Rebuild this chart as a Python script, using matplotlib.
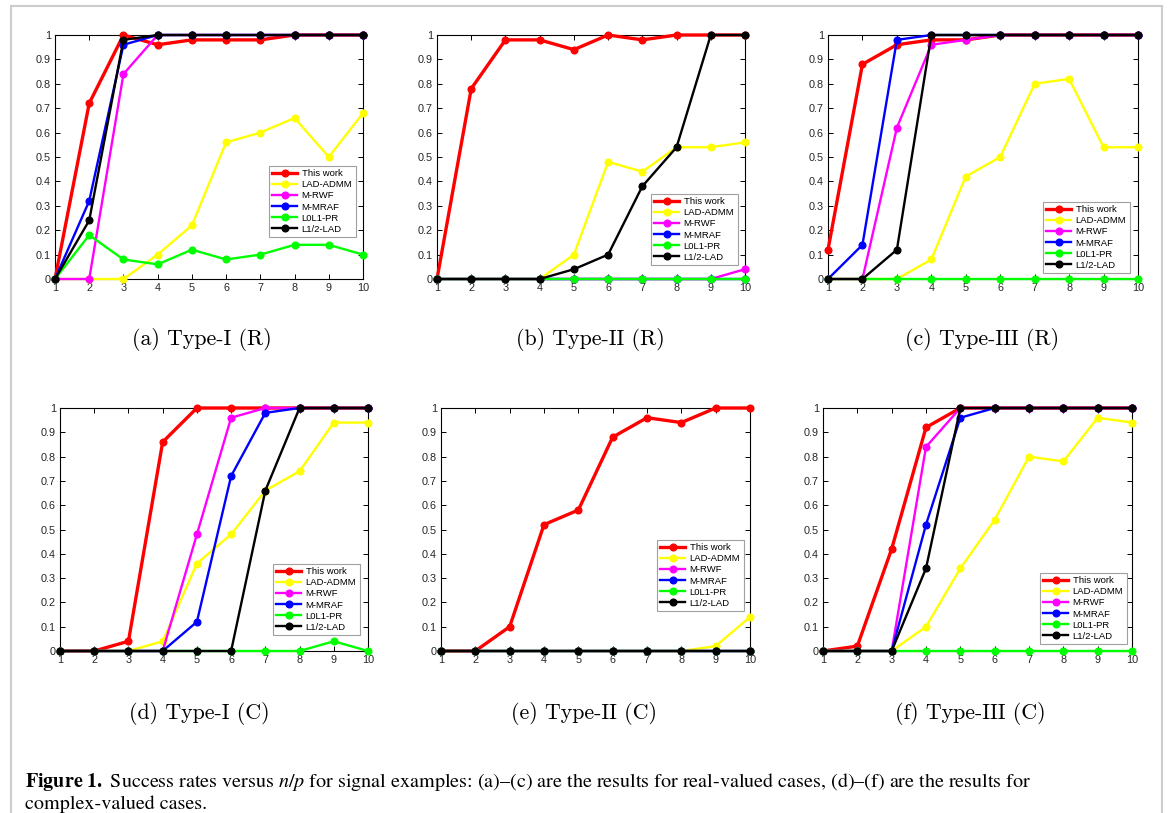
import matplotlib
matplotlib.use("Agg")
import matplotlib.pyplot as plt
from matplotlib.patches import Rectangle

plt.rcParams['font.family'] = ['Liberation Sans', 'DejaVu Sans']
plt.rcParams['mathtext.fontset'] = 'stix'

x = [1, 2, 3, 4, 5, 6, 7, 8, 9, 10]
methods = ['This work', 'LAD-ADMM', 'M-RWF', 'M-MRAF', 'L0L1-PR', 'L1/2-LAD']
colors = ['#ff0000', '#ffff00', '#ff00ff', '#0000ff', '#00ff00', '#000000']

# panel (a) Type-I (R)
a_this = [0, 0.72, 1.0, 0.96, 0.98, 0.98, 0.98, 1, 1, 1]
a_lad = [0, 0, 0, 0.10, 0.22, 0.56, 0.60, 0.66, 0.50, 0.68]
a_rwf = [0, 0, 0.84, 1, 1, 1, 1, 1, 1, 1]
a_mraf = [0, 0.32, 0.96, 1, 1, 1, 1, 1, 1, 1]
a_l0l1 = [0, 0.18, 0.08, 0.06, 0.12, 0.08, 0.10, 0.14, 0.14, 0.10]
a_l12 = [0, 0.24, 0.98, 1, 1, 1, 1, 1, 1, 1]

# panel (b) Type-II (R)
b_this = [0, 0.78, 0.98, 0.98, 0.94, 1, 0.98, 1, 1, 1]
b_lad = [0, 0, 0, 0, 0.10, 0.48, 0.44, 0.54, 0.54, 0.56]
b_rwf = [0, 0, 0, 0, 0, 0, 0, 0, 0, 0.04]
b_mraf = [0, 0, 0, 0, 0, 0, 0, 0, 0, 0]
b_l0l1 = [0, 0, 0, 0, 0, 0, 0, 0, 0, 0]
b_l12 = [0, 0, 0, 0, 0.04, 0.10, 0.38, 0.54, 1, 1]

# panel (c) Type-III (R)
c_this = [0.12, 0.88, 0.96, 0.98, 0.98, 1, 1, 1, 1, 1]
c_lad = [0, 0, 0, 0.08, 0.42, 0.50, 0.80, 0.82, 0.54, 0.54]
c_rwf = [0, 0, 0.62, 0.96, 0.98, 1, 1, 1, 1, 1]
c_mraf = [0, 0.14, 0.98, 1, 1, 1, 1, 1, 1, 1]
c_l0l1 = [0, 0, 0, 0, 0, 0, 0, 0, 0, 0]
c_l12 = [0, 0, 0.12, 1, 1, 1, 1, 1, 1, 1]

# panel (d) Type-I (C)
d_this = [0, 0, 0.04, 0.86, 1, 1, 1, 1, 1, 1]
d_lad = [0, 0, 0, 0.04, 0.36, 0.48, 0.66, 0.74, 0.94, 0.94]
d_rwf = [0, 0, 0, 0, 0.48, 0.96, 1, 1, 1, 1]
d_mraf = [0, 0, 0, 0, 0.12, 0.72, 0.98, 1, 1, 1]
d_l0l1 = [0, 0, 0, 0, 0, 0, 0, 0, 0.04, 0]
d_l12 = [0, 0, 0, 0, 0, 0, 0.66, 1, 1, 1]

# panel (e) Type-II (C)
e_this = [0, 0, 0.10, 0.52, 0.58, 0.88, 0.96, 0.94, 1, 1]
e_lad = [0, 0, 0, 0, 0, 0, 0, 0, 0.02, 0.14]
e_rwf = [0, 0, 0, 0, 0, 0, 0, 0, 0, 0]
e_mraf = [0, 0, 0, 0, 0, 0, 0, 0, 0, 0]
e_l0l1 = [0, 0, 0, 0, 0, 0, 0, 0, 0, 0]
e_l12 = [0, 0, 0, 0, 0, 0, 0, 0, 0, 0]

# panel (f) Type-III (C)
f_this = [0, 0.02, 0.42, 0.92, 1, 1, 1, 1, 1, 1]
f_lad = [0, 0, 0, 0.10, 0.34, 0.54, 0.80, 0.78, 0.96, 0.94]
f_rwf = [0, 0, 0, 0.84, 1, 1, 1, 1, 1, 1]
f_mraf = [0, 0, 0, 0.52, 0.96, 1, 1, 1, 1, 1]
f_l0l1 = [0, 0, 0, 0, 0, 0, 0, 0, 0, 0]
f_l12 = [0, 0, 0, 0.34, 1, 1, 1, 1, 1, 1]

subcaptions = ['(a) Type-I (R)', '(b) Type-II (R)', '(c) Type-III (R)',
               '(d) Type-I (C)', '(e) Type-II (C)', '(f) Type-III (C)']
panels = [
    [a_this, a_lad, a_rwf, a_mraf, a_l0l1, a_l12],
    [b_this, b_lad, b_rwf, b_mraf, b_l0l1, b_l12],
    [c_this, c_lad, c_rwf, c_mraf, c_l0l1, c_l12],
    [d_this, d_lad, d_rwf, d_mraf, d_l0l1, d_l12],
    [e_this, e_lad, e_rwf, e_mraf, e_l0l1, e_l12],
    [f_this, f_lad, f_rwf, f_mraf, f_l0l1, f_l12],
]

W, H = 1170, 813
fig = plt.figure(figsize=(W / 100, H / 100), dpi=100)

# axes boxes in pixels: left, top, right, bottom
boxes = [(55, 35, 363, 279), (437, 35, 745, 279), (828, 35, 1138, 279),
         (60, 408, 368, 651), (441, 408, 750, 651), (823, 408, 1132, 651)]
# legend upper-left corners in pixels
leg_pos = [(269, 166), (651, 194), (1043, 202), (273, 564), (657, 540), (1040, 573)]
cap_xy = [(202, 339), (590, 339), (982, 339), (199, 713), (584, 713), (970, 713)]

for i in range(6):
    l, t, r, b = boxes[i]
    ax = fig.add_axes([l / W, 1 - b / H, (r - l) / W, (b - t) / H])
    for j, ys in enumerate(panels[i]):
        lw = 2.4 if j == 0 else 1.7
        ax.plot(x, ys, color=colors[j], lw=lw, marker='o', ms=4.8,
                label=methods[j], clip_on=False)
    ax.set_xlim(1, 10)
    ax.set_ylim(0, 1)
    ax.set_xticks(x)
    ax.set_yticks([k / 10 for k in range(11)])
    ax.set_yticklabels(['0'] + ['0.%d' % k for k in range(1, 10)] + ['1'])
    ax.tick_params(direction='in', top=True, right=True, length=3.5, width=0.7,
                   labelsize=7.8, labelcolor='#262626', pad=3)
    for sp in ax.spines.values():
        sp.set_linewidth(0.8)
        sp.set_zorder(0.5)
    lx, ly = leg_pos[i]
    leg = ax.legend(loc='upper left',
                    bbox_to_anchor=((lx - l) / (r - l), (b - ly) / (b - t)),
                    fontsize=6.8, handlelength=2.6, borderpad=0.35,
                    labelspacing=0.22, handletextpad=0.5, borderaxespad=0,
                    fancybox=False, framealpha=1, edgecolor='#a0a0a0')
    leg.get_frame().set_linewidth(0.8)
    cx, cy = cap_xy[i]
    fig.text(cx / W, 1 - cy / H, subcaptions[i], family='cmr10',
             fontsize=15.8, ha='center', va='center')

fig.text(25 / W, 1 - 787 / H,
         r'$\mathbf{Figure\ 1.}$ Success rates versus $n/p$ for signal examples: (a)–(c) are the results for real-valued cases, (d)–(f) are the results for',
         family='STIXGeneral', fontsize=14.5, ha='left', va='baseline')
fig.text(25 / W, 1 - 809 / H, 'complex-valued cases.',
         family='STIXGeneral', fontsize=14.5, ha='left', va='baseline')

# page border
fig.add_artist(Rectangle((11 / W, -0.1), (1162 - 11) / W, 1.1 - 6 / H,
                         transform=fig.transFigure, fill=False,
                         edgecolor='#cccccc', lw=1.5))

fig.savefig('out.png', dpi=100)
